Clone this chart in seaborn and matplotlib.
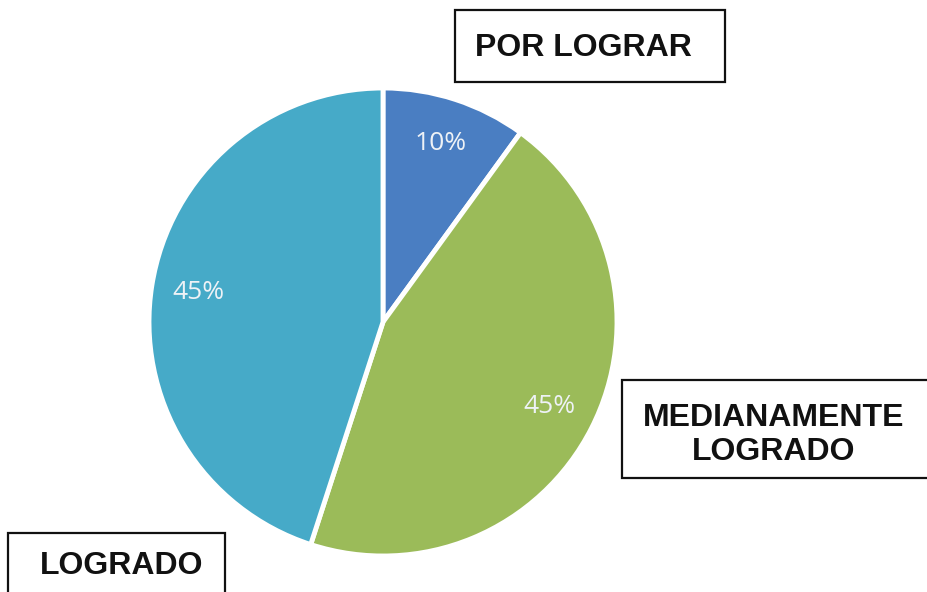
import matplotlib
matplotlib.use("Agg")
import matplotlib.pyplot as plt
import seaborn as sns
from matplotlib.patches import Rectangle

# data
categories = ["POR LOGRAR", "MEDIANAMENTE\nLOGRADO", "LOGRADO"]
shares = [10, 45, 45]
colors = ["#4A7EC2", "#9BBB59", "#46AAC8"]

sns.set_theme(style="white")
plt.rcParams['font.family'] = ['Liberation Sans', 'DejaVu Sans']

W, H = 927, 592
fig = plt.figure(figsize=(W / 100, H / 100), dpi=100)
fig.patch.set_facecolor("white")

# pie centre (383, 322) px from top-left, radius 234 px
cx, cy, r = 383, 322, 234
ax = fig.add_axes([(cx - r) / W, (H - cy - r) / H, 2 * r / W, 2 * r / H])

wedges, texts, autotexts = ax.pie(
    shares, colors=colors, startangle=90, counterclock=False,
    autopct='%1.0f%%', pctdistance=0.8, radius=1.0,
    wedgeprops=dict(edgecolor="white", linewidth=3.5),
    textprops=dict(color="#EEF2F6", fontsize=19, family=["Open Sans", "DejaVu Sans"]),
)
ax.set_xlim(-1, 1)
ax.set_ylim(-1, 1)
ax.set_aspect("equal")
ax.axis("off")


def px_box(x0, y0, x1, y1):
    fig.add_artist(Rectangle((x0 / W, 1 - y1 / H), (x1 - x0) / W, (y1 - y0) / H,
                             transform=fig.transFigure, facecolor="white",
                             edgecolor="#111111", linewidth=1.6, clip_on=False))


def px_text(x, y, s):
    fig.text(x / W, 1 - y / H, s, ha="center", va="center", fontsize=23,
             fontweight="bold", color="#111111", linespacing=1.2)


# label boxes
px_box(455, 10, 725, 82)
px_text(583, 48, categories[0])

px_box(622, 380, 940, 478)
px_text(774, 435, categories[1])

px_box(8, 533, 225, 610)
px_text(122, 566, categories[2])

fig.savefig("out.png", dpi=100)
